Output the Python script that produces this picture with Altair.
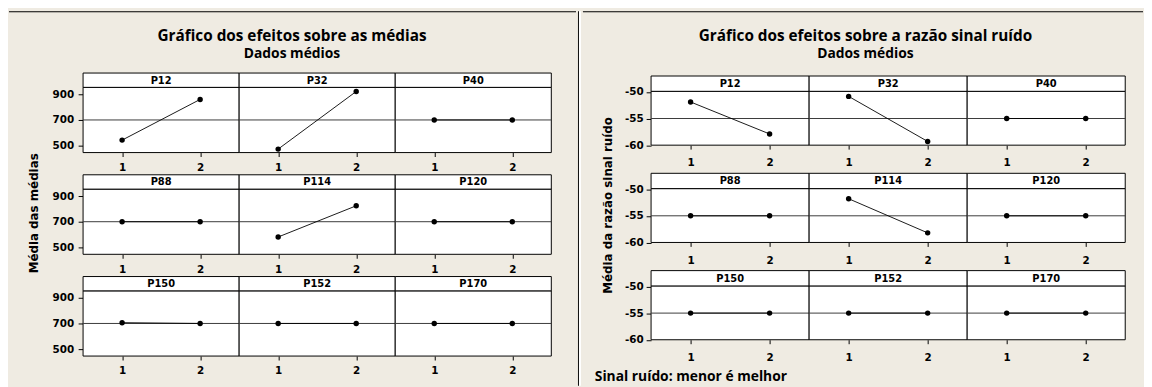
import altair as alt
import pandas as pd

# ---------------- data ----------------
params = ["P12", "P32", "P40", "P88", "P114", "P120", "P150", "P152", "P170"]
levels = [1, 2]
mean_level1 = [543, 473, 700, 700, 581, 700, 706, 700, 700]
mean_level2 = [860, 922, 700, 700, 824, 700, 700, 700, 700]
sn_level1 = [-51.9, -50.85, -55, -55, -51.8, -55, -55, -55, -55]
sn_level2 = [-57.9, -59.3, -55, -55, -58.2, -55, -55, -55, -55]
mean_overall = 700
sn_overall = -55
mean_ticks = [500, 700, 900]
sn_ticks = [-60, -55, -50]

title_left = "Gráfico dos efeitos sobre as médias"
title_right = "Gráfico dos efeitos sobre a razão sinal ruído"
subtitle = "Dados médios"
ytitle_left = "Média das médias"
ytitle_right = "Média da razão sinal ruído"
footer_text = "Sinal ruído: menor é melhor"

BG = "#EFEBE2"
FT = "Open Sans"
FA = "DejaVu Sans"


def make_df(v1, v2, ref):
    rows = []
    for p, a, b in zip(params, v1, v2):
        rows.append({"param": p, "level": levels[0], "value": a, "ref": ref})
        rows.append({"param": p, "level": levels[1], "value": b, "ref": ref})
    return pd.DataFrame(rows)


one = pd.DataFrame({"k": [0]})


def make_cell(df, p, col, domain, ticks, cw, ch, sh, ylab_pad, xlab_pad):
    xscale = alt.Scale(domain=[0.5, 2.5], nice=False, zero=False)
    yscale = alt.Scale(domain=domain, nice=False, zero=False)
    xaxis = alt.Axis(values=levels, format="d", title=None, domain=False, grid=False,
                     tickColor="black", tickSize=4, labelPadding=xlab_pad,
                     labelFont=FA, labelFontWeight="bold", labelFontSize=10.5,
                     labelColor="black")
    if col == 0:
        yaxis = alt.Axis(values=ticks, title=None, domain=False, grid=False,
                         labelExpr="'' + datum.value",
                         tickColor="black", tickSize=5, labelPadding=ylab_pad,
                         labelFont=FA, labelFontWeight="bold", labelFontSize=10.5,
                         labelColor="black")
    else:
        yaxis = None
    base = alt.Chart(df).transform_filter(alt.datum.param == p)
    first = base.transform_filter(alt.datum.level == 1)
    cell = first.mark_rect(fill="white", stroke="black", strokeWidth=1).encode(
        x=alt.value(0), x2=alt.value(cw), y=alt.value(0), y2=alt.value(ch))
    strip = first.mark_rect(fill="white", stroke="black", strokeWidth=1).encode(
        x=alt.value(0), x2=alt.value(cw), y=alt.value(-sh), y2=alt.value(0))
    label = first.mark_text(font=FA, fontWeight="bold", fontSize=10, color="black",
                            baseline="middle", align="center").encode(
        x=alt.value(cw / 2), y=alt.value(-sh / 2 + 0.5), text=alt.Text("param:N"))
    ref = first.mark_rule(color="#3a3a3a", strokeWidth=1).encode(
        y=alt.Y("ref:Q", scale=yscale, axis=yaxis))
    line = base.mark_line(color="black", strokeWidth=0.9).encode(
        x=alt.X("level:Q", scale=xscale, axis=xaxis),
        y=alt.Y("value:Q", scale=yscale, axis=yaxis))
    pts = base.mark_circle(color="black", opacity=1, size=30).encode(
        x=alt.X("level:Q", scale=xscale, axis=xaxis),
        y=alt.Y("value:Q", scale=yscale, axis=yaxis))
    return alt.layer(cell, strip, label, ref, line, pts).properties(width=cw, height=ch)


def make_grid(df, domain, ticks, cw, ch, sh, row_gap, ylab_pad, xlab_pad):
    rows = []
    for r in range(3):
        cells = [make_cell(df, params[r * 3 + c], c, domain, ticks, cw, ch, sh,
                           ylab_pad, xlab_pad) for c in range(3)]
        rows.append(alt.hconcat(*cells, spacing=0, bounds="flush"))
    return alt.vconcat(*rows, spacing=row_gap)


def side_chart(w, h, text, tx, ty):
    box = alt.Chart(one).mark_rect(opacity=0).encode(
        x=alt.value(0), x2=alt.value(w), y=alt.value(0), y2=alt.value(h))
    t = alt.Chart(one).mark_text(font=FA, fontWeight="bold", fontSize=12, color="black",
                                 angle=270, align="center", baseline="middle").encode(
        x=alt.value(tx), y=alt.value(ty), text=alt.value(text))
    return alt.layer(box, t).properties(width=w, height=h)


def title_chart(w, h, title, cx, ty, sy):
    box = alt.Chart(one).mark_rect(opacity=0).encode(
        x=alt.value(0), x2=alt.value(w), y=alt.value(0), y2=alt.value(h))
    top = alt.Chart(one).mark_rect(color="black").encode(
        x=alt.value(0), x2=alt.value(w), y=alt.value(0), y2=alt.value(1))
    t1 = alt.Chart(one).mark_text(font=FT, fontWeight="bold", fontSize=15.5, color="black",
                                  align="center", baseline="middle").encode(
        x=alt.value(cx), y=alt.value(ty), text=alt.value(title))
    t2 = alt.Chart(one).mark_text(font=FT, fontWeight="bold", fontSize=14, color="black",
                                  align="center", baseline="middle").encode(
        x=alt.value(cx), y=alt.value(sy), text=alt.value(subtitle))
    return alt.layer(box, top, t1, t2).properties(width=w, height=h)


df_mean = make_df(mean_level1, mean_level2, mean_overall)
df_sn = make_df(sn_level1, sn_level2, sn_overall)

# ---- left panel ----
grid_l = make_grid(df_mean, [446, 954], mean_ticks, 158, 66, 14.5, 0, 4.5, 6)
block_l = alt.hconcat(side_chart(42, 200, ytitle_left, 25, 127.5), grid_l, spacing=0)
title_l = title_chart(574, 60.2, title_left, 286.5, 25, 43)
content_l = alt.vconcat(title_l, block_l, spacing=0)

FULL_H = 379
sep_black = alt.Chart(one).mark_rect(color="black").encode(
    x=alt.value(0), x2=alt.value(1), y=alt.value(0), y2=alt.value(FULL_H))
sep_white = alt.Chart(one).mark_rect(color="white").encode(
    x=alt.value(1), x2=alt.value(3), y=alt.value(0), y2=alt.value(FULL_H))
sep = alt.layer(sep_black, sep_white).properties(width=3, height=FULL_H)

left_panel = alt.hconcat(content_l, sep, spacing=0)

# ---- right panel ----
grid_r = make_grid(df_sn, [-60, -49.9], sn_ticks, 160, 54.5, 15.5, 2.5, 3, 9)
block_r = alt.hconcat(side_chart(40, 200, ytitle_right, 25, 115.5), grid_r, spacing=0)
title_r = title_chart(567, 63.2, title_right, 286, 25, 43)

footer_box = alt.Chart(one).mark_rect(opacity=0).encode(
    x=alt.value(0), x2=alt.value(300), y=alt.value(0), y2=alt.value(16))
footer_txt = alt.Chart(one).mark_text(font=FT, fontWeight="bold", fontSize=14, color="black",
                                      align="left", baseline="middle").encode(
    x=alt.value(12), y=alt.value(8), text=alt.value(footer_text))
footer = alt.layer(footer_box, footer_txt).properties(width=300, height=16)

right_panel = alt.vconcat(alt.vconcat(title_r, block_r, spacing=0), footer, spacing=4)

chart = alt.hconcat(left_panel, right_panel, spacing=0).properties(
    padding={"left": 0, "top": 0, "right": 0, "bottom": 0}
).configure(background=BG).configure_view(stroke="transparent")

chart.save("out.html", embed_options={"renderer": "svg", "actions": False})
